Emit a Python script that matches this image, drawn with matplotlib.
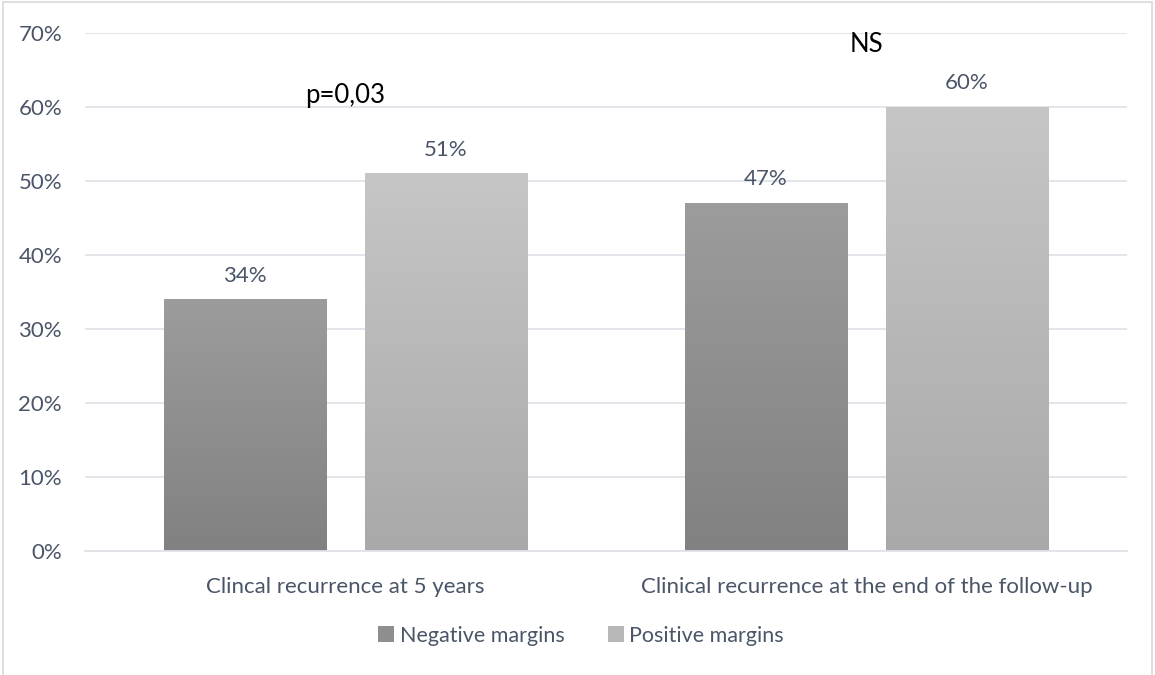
import numpy as np
import matplotlib.pyplot as plt
from matplotlib.colors import LinearSegmentedColormap
from matplotlib.patches import Patch, Rectangle

categories = ["Clincal recurrence at 5 years", "Clinical recurrence at the end of the follow-up"]
series = ["Negative margins", "Positive margins"]
negative = [34, 47]
positive = [51, 60]
stats = ["p=0,03", "NS"]
stat_y = [61.6, 68.4]

plt.rcParams['font.family'] = ['Lato', 'DejaVu Sans']
text_col = '#4a5568'

fig = plt.figure(figsize=(11.55, 6.75), dpi=100)
fig.patches.append(Rectangle((0.003, -0.01), 0.994, 1.007, transform=fig.transFigure,
                             fill=False, edgecolor='#d9d9d9', linewidth=1.2))
ax = fig.add_axes([0.0736, 0.1837, 0.9022, 0.7674])

# gradients top -> bottom
cmaps = [LinearSegmentedColormap.from_list('dk', ['#818181', '#9c9c9c']),
         LinearSegmentedColormap.from_list('lt', ['#a9a9a9', '#c6c6c6'])]
mid_cols = ['#8e8e8e', '#b8b8b8']

x = np.arange(len(categories))
width = 0.311
offsets = [-0.193, 0.193]
grad = np.linspace(0, 1, 256).reshape(-1, 1)

for s, vals in enumerate([negative, positive]):
    for i, v in enumerate(vals):
        x0 = x[i] + offsets[s] - width / 2
        ax.imshow(grad, extent=[x0, x0 + width, 0, v], origin='lower', aspect='auto',
                  cmap=cmaps[s], zorder=2)
        ax.annotate(f"{v}%", (x[i] + offsets[s], v), xytext=(0, 10), textcoords='offset points',
                    ha='center', va='bottom', fontsize=16, color=text_col)

for i, t in enumerate(stats):
    ax.text(x[i], stat_y[i], t, ha='center', va='center', fontsize=18.5, color='black')

ax.set_xlim(-0.5, 1.5)
ax.set_ylim(0, 70)
ax.set_yticks(range(0, 71, 10))
ax.set_yticklabels([f"{t}%" for t in range(0, 71, 10)])
ax.set_xticks(x)
ax.set_xticklabels(categories)
ax.tick_params(length=0, labelsize=16, labelcolor=text_col)
ax.tick_params(axis='x', pad=19)
ax.tick_params(axis='y', pad=16.5)
ax.grid(axis='y', color='#dfe3e8', linewidth=1.3, zorder=0)
ax.set_axisbelow(True)
for sp in ['top', 'right', 'left']:
    ax.spines[sp].set_visible(False)
ax.spines['bottom'].set_color('#dfe3e8')
ax.spines['bottom'].set_linewidth(1.3)

handles = [Patch(facecolor=mid_cols[k], label=series[k]) for k in range(2)]
fig.legend(handles=handles, loc='center', bbox_to_anchor=(0.503, 0.058), ncol=2, frameon=False,
           fontsize=15.5, labelcolor=text_col, handlelength=0.75, handleheight=0.75,
           handletextpad=0.25, columnspacing=2.0)

fig.savefig('out.png', dpi=100)
